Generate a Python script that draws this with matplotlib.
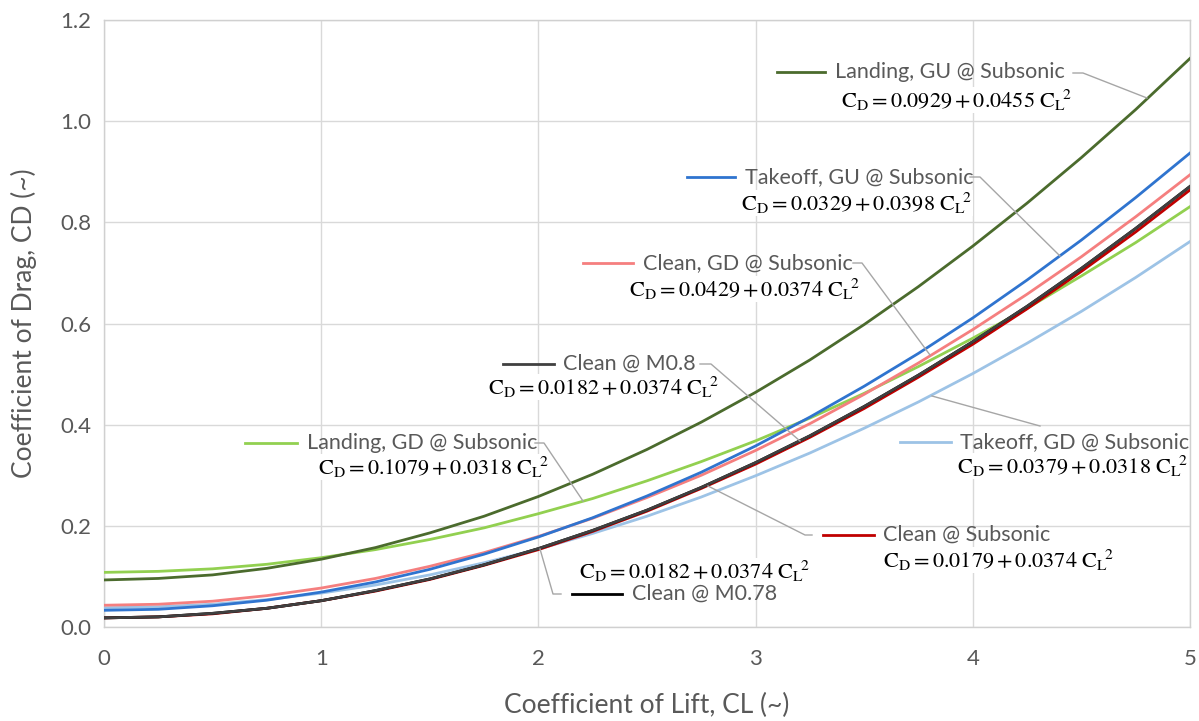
import matplotlib
matplotlib.use("Agg")
import matplotlib.pyplot as plt
from matplotlib.lines import Line2D

# ---------------- data ----------------
cl = [0, 0.25, 0.5, 0.75, 1, 1.25, 1.5, 1.75, 2, 2.25, 2.5,
      2.75, 3, 3.25, 3.5, 3.75, 4, 4.25, 4.5, 4.75, 5]

landing_gu = [0.093, 0.096, 0.103, 0.116, 0.134, 0.157, 0.186, 0.219, 0.258, 0.302, 0.351,
              0.405, 0.464, 0.528, 0.598, 0.673, 0.753, 0.838, 0.928, 1.023, 1.124]
takeoff_gu = [0.033, 0.035, 0.042, 0.053, 0.069, 0.089, 0.114, 0.144, 0.178, 0.216, 0.259,
              0.306, 0.358, 0.415, 0.476, 0.541, 0.611, 0.686, 0.765, 0.849, 0.937]
clean_gd = [0.043, 0.045, 0.051, 0.062, 0.077, 0.096, 0.120, 0.147, 0.179, 0.215, 0.256,
            0.300, 0.349, 0.402, 0.460, 0.522, 0.588, 0.658, 0.732, 0.811, 0.894]
clean_sub = [0.018, 0.020, 0.026, 0.037, 0.052, 0.071, 0.094, 0.122, 0.153, 0.189, 0.229,
             0.274, 0.322, 0.375, 0.432, 0.494, 0.559, 0.629, 0.703, 0.781, 0.864]
clean_m08 = [0.018, 0.020, 0.027, 0.037, 0.052, 0.072, 0.095, 0.123, 0.155, 0.191, 0.231,
             0.276, 0.325, 0.378, 0.436, 0.498, 0.564, 0.634, 0.709, 0.788, 0.871]
clean_m078 = [0.018, 0.020, 0.027, 0.037, 0.052, 0.072, 0.095, 0.123, 0.155, 0.191, 0.231,
              0.276, 0.325, 0.378, 0.436, 0.498, 0.564, 0.634, 0.709, 0.788, 0.871]
landing_gd = [0.108, 0.110, 0.115, 0.124, 0.137, 0.153, 0.173, 0.196, 0.224, 0.254, 0.289,
              0.327, 0.368, 0.413, 0.462, 0.515, 0.571, 0.630, 0.694, 0.760, 0.831]
takeoff_gd = [0.038, 0.040, 0.045, 0.054, 0.067, 0.083, 0.103, 0.127, 0.154, 0.185, 0.219,
              0.257, 0.299, 0.344, 0.393, 0.445, 0.501, 0.561, 0.624, 0.691, 0.762]

names = ["Landing, GU @ Subsonic", "Takeoff, GU @ Subsonic", "Clean, GD @ Subsonic",
         "Clean @ M0.8", "Landing, GD @ Subsonic", "Takeoff, GD @ Subsonic",
         "Clean @ Subsonic", "Clean @ M0.78"]
equations = [r"$\mathrm{C_D = 0.0929 + 0.0455\ C_L\!{}^{2}}$",
             r"$\mathrm{C_D = 0.0329 + 0.0398\ C_L\!{}^{2}}$",
             r"$\mathrm{C_D = 0.0429 + 0.0374\ C_L\!{}^{2}}$",
             r"$\mathrm{C_D = 0.0182 + 0.0374\ C_L\!{}^{2}}$",
             r"$\mathrm{C_D = 0.1079 + 0.0318\ C_L\!{}^{2}}$",
             r"$\mathrm{C_D = 0.0379 + 0.0318\ C_L\!{}^{2}}$",
             r"$\mathrm{C_D = 0.0179 + 0.0374\ C_L\!{}^{2}}$",
             r"$\mathrm{C_D = 0.0182 + 0.0374\ C_L\!{}^{2}}$"]

xticks = [0, 1, 2, 3, 4, 5]
yticks = [0.0, 0.2, 0.4, 0.6, 0.8, 1.0, 1.2]
xlabel = "Coefficient of Lift, CL (~)"
ylabel = "Coefficient of Drag, CD (~)"

# ---------------- style ----------------
plt.rcParams["mathtext.fontset"] = "stix"
plt.rcParams["font.family"] = ["Lato", "DejaVu Sans"]

W, H = 1199, 721
fig = plt.figure(figsize=(W / 100, H / 100), dpi=100)
ax = fig.add_axes([104 / W, (H - 627) / H, 1086 / W, 607 / H])

colors = ["#4b6b2d", "#2f74cf", "#f57f7f", "#404040",
          "#92d050", "#9dc3e6", "#c00000", "#000000"]
series = [landing_gu, takeoff_gu, clean_gd, clean_m08,
          landing_gd, takeoff_gd, clean_sub, clean_m078]

draw_order = [5, 4, 6, 2, 1, 7, 3, 0]
for i in draw_order:
    ax.plot(cl, series[i], color=colors[i], lw=2.0, zorder=3)

ax.set_xlim(0, 5)
ax.set_ylim(0, 1.2)
ax.set_xticks(xticks)
ax.set_xticklabels([str(v) for v in xticks])
ax.set_yticks(yticks)
ax.set_yticklabels([f"{v:.1f}" for v in yticks])
ax.grid(True, color="#d9d9d9", lw=1.0, zorder=0)
ax.set_axisbelow(True)
for s in ax.spines.values():
    s.set_color("#d0d0d0")
    s.set_linewidth(1.0)
ax.tick_params(length=0, labelsize=16, colors="#595959")
ax.tick_params(axis="y", pad=9)
ax.tick_params(axis="x", pad=16)
ax.set_xlabel(xlabel, fontsize=19, color="#595959", labelpad=17)
ax.set_ylabel(ylabel, fontsize=19, color="#595959", labelpad=17)


def P(x, y):
    return (x / W, 1 - y / H)


def leader(pts):
    xs = [p[0] / W for p in pts]
    ys = [1 - p[1] / H for p in pts]
    fig.add_artist(Line2D(xs, ys, transform=fig.transFigure, color="#a6a6a6", lw=1.0, zorder=4))


def key(x0, x1, y, c):
    fig.add_artist(Line2D([x0 / W, x1 / W], [1 - y / H, 1 - y / H],
                          transform=fig.transFigure, color=c, lw=2.0, zorder=5))


# label layout: (key x0, key x1, name y, name x, eq center x, eq y, leader points)
labels = [
    (777, 825, 72, 835, 957, 100, [(1073, 73), (1083, 73), (1147, 98)]),
    (687, 735, 177, 745, 857, 203, [(970, 177), (980, 177), (1060, 256)]),
    (583, 633, 263, 643, 745, 289, [(853, 263), (862, 263), (930, 355)]),
    (503, 554, 364, 563, 604, 387, [(700, 364), (711, 364), (800, 441)]),
    (245, 297, 443, 307, 434, 467, [(535, 443), (544, 443), (583, 501)]),
    (900, 951, 442, 960, 1073, 466, [(932, 396), (1040, 426)]),
    (823, 874, 535, 883, 999, 560, [(708, 486), (805, 535), (812, 535)]),
    (572, 622, 594, 632, 695, 571, [(540, 549), (553, 594), (561, 594)]),
]

for i, (k0, k1, ny, nx, ex, ey, pts) in enumerate(labels):
    leader(pts)
    key(k0, k1, ny, colors[i])
    fig.text(*P(nx, ny), names[i], fontsize=15.5, color="#595959",
             ha="left", va="center", zorder=6)
    fig.text(*P(ex, ey), equations[i], fontsize=16, color="black",
             ha="center", va="center", zorder=6,
             bbox=dict(boxstyle="square,pad=0.0", fc="white", ec="none"))

fig.savefig("out.png", dpi=100, facecolor="white")
